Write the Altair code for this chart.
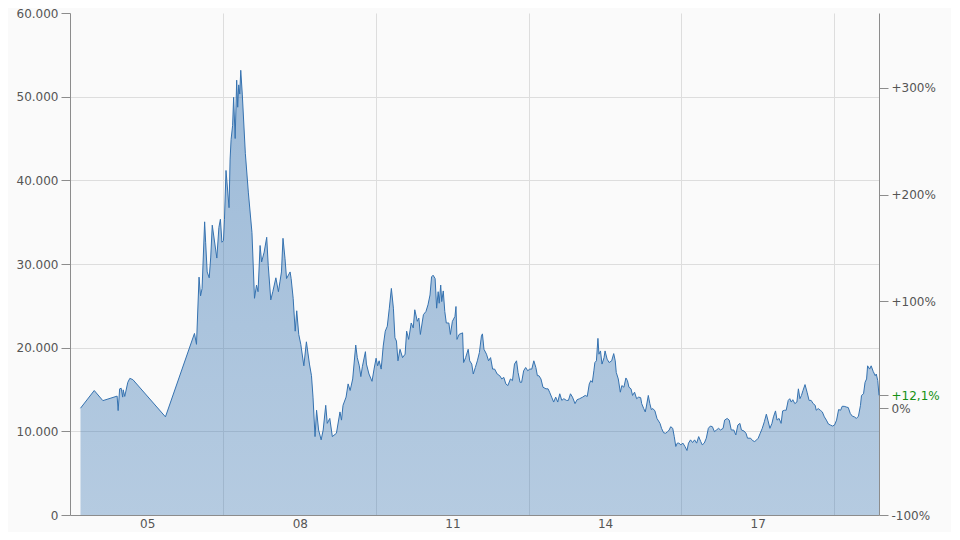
import altair as alt
import pandas as pd

years = [
    2004.19, 2004.46, 2004.63, 2004.91, 2004.93, 2004.96, 2004.99, 2005.02, 2005.03, 2005.06,
    2005.12, 2005.16, 2005.22, 2005.86, 2006.43, 2006.47, 2006.52, 2006.55, 2006.58, 2006.63,
    2006.65, 2006.68, 2006.72, 2006.75, 2006.78, 2006.87, 2006.91, 2006.94, 2006.97, 2007.00,
    2007.02, 2007.05, 2007.11, 2007.13, 2007.15, 2007.18, 2007.20, 2007.23, 2007.26, 2007.28,
    2007.30, 2007.32, 2007.34, 2007.37, 2007.43, 2007.49, 2007.56, 2007.61, 2007.65, 2007.68,
    2007.72, 2007.75, 2007.80, 2007.85, 2007.88, 2007.93, 2007.97, 2008.03, 2008.08, 2008.11,
    2008.14, 2008.17, 2008.21, 2008.24, 2008.31, 2008.33, 2008.37, 2008.41, 2008.44, 2008.48,
    2008.52, 2008.58, 2008.63, 2008.69, 2008.73, 2008.76, 2008.80, 2008.83, 2008.87, 2008.92,
    2008.96, 2009.01, 2009.04, 2009.09, 2009.14, 2009.22, 2009.29, 2009.32, 2009.35, 2009.41,
    2009.45, 2009.49, 2009.54, 2009.60, 2009.63, 2009.67, 2009.70, 2009.73, 2009.79, 2009.81,
    2009.86, 2009.92, 2009.96, 2010.00, 2010.03, 2010.06, 2010.10, 2010.14, 2010.18, 2010.22,
    2010.26, 2010.30, 2010.34, 2010.37, 2010.40, 2010.43, 2010.47, 2010.52, 2010.57, 2010.60,
    2010.64, 2010.69, 2010.73, 2010.76, 2010.81, 2010.84, 2010.87, 2010.93, 2010.98, 2011.02,
    2011.06, 2011.09, 2011.12, 2011.16, 2011.19, 2011.22, 2011.24, 2011.27, 2011.29, 2011.32,
    2011.35, 2011.38, 2011.43, 2011.46, 2011.50, 2011.55, 2011.57, 2011.59, 2011.63, 2011.70,
    2011.72, 2011.76, 2011.81, 2011.84, 2011.88, 2011.91, 2011.95, 2011.99, 2012.03, 2012.07,
    2012.09, 2012.12, 2012.17, 2012.21, 2012.25, 2012.29, 2012.33, 2012.38, 2012.43, 2012.47,
    2012.51, 2012.55, 2012.59, 2012.64, 2012.68, 2012.72, 2012.76, 2012.79, 2012.83, 2012.86,
    2012.90, 2012.94, 2012.98, 2013.02, 2013.06, 2013.10, 2013.14, 2013.17, 2013.20, 2013.24,
    2013.28, 2013.34, 2013.38, 2013.41, 2013.45, 2013.49, 2013.53, 2013.57, 2013.61, 2013.65,
    2013.69, 2013.74, 2013.78, 2013.82, 2013.86, 2013.91, 2013.95, 2014.00, 2014.06, 2014.11,
    2014.15, 2014.19, 2014.22, 2014.25, 2014.28, 2014.30, 2014.33, 2014.36, 2014.38, 2014.41,
    2014.44, 2014.48, 2014.50, 2014.54, 2014.58, 2014.63, 2014.67, 2014.70, 2014.72, 2014.76,
    2014.80, 2014.83, 2014.87, 2014.91, 2014.94, 2014.97, 2015.01, 2015.04, 2015.08, 2015.12,
    2015.16, 2015.20, 2015.22, 2015.26, 2015.29, 2015.31, 2015.35, 2015.38, 2015.41, 2015.44,
    2015.48, 2015.52, 2015.58, 2015.61, 2015.65, 2015.69, 2015.73, 2015.76, 2015.79, 2015.83,
    2015.86, 2015.89, 2015.92, 2015.95, 2015.99, 2016.03, 2016.07, 2016.11, 2016.14, 2016.18,
    2016.22, 2016.26, 2016.30, 2016.34, 2016.38, 2016.41, 2016.45, 2016.49, 2016.53, 2016.57,
    2016.61, 2016.65, 2016.69, 2016.73, 2016.77, 2016.82, 2016.85, 2016.90, 2016.94, 2016.98,
    2017.03, 2017.07, 2017.11, 2017.15, 2017.18, 2017.23, 2017.27, 2017.30, 2017.36, 2017.40,
    2017.44, 2017.48, 2017.51, 2017.55, 2017.59, 2017.63, 2017.67, 2017.70, 2017.74, 2017.78,
    2017.81, 2017.85, 2017.88, 2017.92, 2017.96, 2017.99, 2018.03, 2018.06, 2018.10, 2018.13,
    2018.16, 2018.19, 2018.23, 2018.27, 2018.30, 2018.33, 2018.36, 2018.39, 2018.43, 2018.47,
    2018.51, 2018.55, 2018.59, 2018.63, 2018.65, 2018.69, 2018.73, 2018.77, 2018.81, 2018.85,
    2018.89, 2018.93, 2018.97, 2019.01, 2019.05, 2019.09, 2019.13, 2019.16, 2019.20, 2019.24,
    2019.28, 2019.32, 2019.36, 2019.40, 2019.44, 2019.48, 2019.52, 2019.54, 2019.58, 2019.61,
    2019.64, 2019.66, 2019.70, 2019.73, 2019.77, 2019.81, 2019.83, 2019.86, 2019.884,
]

prices = [
    12760, 14880, 13670, 14210, 12480, 15080, 15150, 14090, 14960, 14170,
    15860, 16330, 16180, 11730, 21700, 20400, 28430, 26190, 27080, 35040,
    32600, 29050, 28350, 30830, 34640, 30710, 34370, 35350, 32600, 32800,
    35350, 41180, 36730, 42440, 44880, 46570, 49920, 45000, 51970, 48740,
    51410, 50310, 53150, 50310, 43230, 38500, 33780, 25900, 27480, 26690,
    32210, 30240, 31420, 33190, 29850, 25710, 26690, 28350, 26690, 27870,
    29050, 33070, 30630, 28260, 29050, 28260, 25900, 21970, 24410, 21580,
    20400, 17830, 20700, 18040, 16650, 14090, 9370, 12520, 10160, 8980,
    10160, 13110, 10950, 11540, 9370, 9770, 12320, 11340, 13110, 14090,
    15670, 14880, 16260, 20310, 18810, 17830, 16540, 17720, 19520, 18040,
    16850, 15980, 17440, 18740, 17830, 18430, 17440, 20200, 21970, 22560,
    24720, 27080, 24720, 21180, 20790, 18430, 19810, 18810, 19220, 21970,
    20990, 22950, 22360, 24530, 23150, 23540, 21580, 23940, 24330, 25120,
    26300, 28460, 28660, 28260, 24720, 26690, 25310, 27480, 25510, 26780,
    24330, 22950, 22950, 21580, 23150, 23740, 24920, 20990, 21580, 21770,
    18220, 18810, 19810, 18430, 18040, 16850, 17630, 18430, 19410, 21380,
    21650, 19810, 19220, 18430, 18810, 17440, 17440, 16850, 16650, 16260,
    16450, 15670, 15470, 16260, 16060, 18040, 18430, 17040, 15860, 15860,
    17240, 17630, 17240, 17440, 17440, 18430, 17630, 16650, 16650, 16260,
    15270, 15080, 15080, 14680, 14090, 13500, 14090, 13500, 14490, 13700,
    13900, 13700, 13700, 14490, 14090, 13310, 13780, 13900, 14090, 14290,
    14170, 15670, 16060, 15860, 17240, 18220, 18430, 21110, 19220, 19610,
    18040, 18810, 19610, 18630, 18220, 18430, 19290, 18430, 17040, 16260,
    14680, 15470, 15270, 16380, 16060, 15270, 15080, 14290, 14680, 13900,
    14090, 14020, 13310, 12720, 12320, 12910, 14290, 13310, 12600, 12720,
    12440, 11540, 10950, 10360, 9840, 9770, 9960, 10160, 10550, 10360,
    9370, 8190, 8590, 8590, 8390, 8590, 8190, 7710, 8590, 8980,
    8660, 8980, 8590, 9370, 8780, 8390, 8590, 9180, 10360, 10630,
    10550, 9960, 10160, 10360, 10160, 10360, 11340, 11540, 11340, 10160,
    10160, 9570, 10750, 10950, 10160, 10040, 9770, 9180, 9180, 8890,
    8780, 8980, 9180, 9770, 10360, 11140, 12050, 11340, 10360, 10950,
    11730, 12440, 11340, 11540, 10950, 12440, 12520, 12520, 13700, 13900,
    13500, 13780, 13310, 13500, 15080, 13900, 14290, 14880, 15590, 14680,
    13700, 13700, 13310, 13110, 12520, 12720, 12520, 12320, 11730, 11340,
    10870, 10750, 10630, 10750, 11340, 12600, 12520, 12990, 12990, 12910,
    12840, 12130, 11810, 11730, 11540, 11810, 13110, 14290, 14490, 15860,
    16260, 17830, 17440, 17830, 17160, 16650, 16850, 16060, 14300,
]

y_ticks = [0, 10000, 20000, 30000, 40000, 50000, 60000]
x_grid_years = [2007, 2010, 2013, 2016, 2019]
x_label_years = [2005.5, 2008.5, 2011.5, 2014.5, 2017.5]
x_domain = [2003.984, 2019.884]
pct_steps = [-100, 0, 100, 200, 300]

base = prices[0]
last = prices[-1]
pct_last = (last / base - 1) * 100
last_label = ("+" if pct_last >= 0 else "") + f"{pct_last:.1f}".replace(".", ",") + "%"
pct_values = [base * (1 + p / 100) for p in pct_steps] + [last]

df = pd.DataFrame({"year": years, "price": prices})

FONT = "DejaVu Sans"
AXIS_GRAY = "#8c8c8c"
LABEL_GRAY = "#555555"
GRID = "#dddddd"
LINE = "#3572b0"

x_enc = alt.X(
    "year:Q",
    scale=alt.Scale(domain=x_domain, nice=False, zero=False),
    axis=alt.Axis(
        values=sorted(x_grid_years + x_label_years),
        title=None,
        grid=True,
        labelExpr="datum.value % 1 == 0 ? '' : substring(toString(floor(datum.value)), 2)",
        ticks=False,
        tickSize=0,
        labelPadding=3,
        labelOverlap=False,
        labelFlush=False,
        gridColor={"condition": {"test": "datum.value % 1 == 0", "value": GRID}, "value": "transparent"},
    ),
)

y_left = alt.Y(
    "price:Q",
    scale=alt.Scale(domain=[0, 60000], nice=False, zero=True),
    axis=alt.Axis(
        values=y_ticks,
        title=None,
        grid=True,
        labelExpr="replace(format(datum.value, ','), ',', '.')",
        tickSize=9,
        labelPadding=3,
        labelOverlap=False,
        gridColor={"condition": {"test": "datum.value >= 60000 || datum.value <= 0", "value": "transparent"}, "value": GRID},
    ),
)

gradient = alt.Gradient(
    gradient="linear",
    stops=[
        alt.GradientStop(color="rgba(48,112,176,0.46)", offset=0),
        alt.GradientStop(color="rgba(48,112,176,0.34)", offset=1),
    ],
    x1=0, x2=0, y1=0, y2=1,
)

area = alt.Chart(df).mark_area(interpolate="linear", color=gradient).encode(x=x_enc, y=y_left)
line = alt.Chart(df).mark_line(interpolate="linear", color=LINE, strokeWidth=1).encode(x=x_enc, y=y_left)

right_expr = (
    f"abs(datum.value - {last}) < 0.5 ? '{last_label}' : "
    f"(datum.value > {base} + 0.5 ? '+' : '') + round(datum.value / {base} * 100 - 100) + '%'"
)

right = alt.Chart(df).mark_line(opacity=0).encode(
    x=x_enc,
    y=alt.Y(
        "price:Q",
        scale=alt.Scale(domain=[0, 60000], nice=False, zero=True),
        axis=alt.Axis(
            orient="right",
            values=pct_values,
            title=None,
            grid=False,
            labelExpr=right_expr,
            tickSize=9,
            labelPadding=3,
            labelOverlap=False,
            labelColor={"condition": {"test": f"abs(datum.value - {last}) < 0.5", "value": "#149014"}, "value": LABEL_GRAY},
        ),
    ),
)

chart = (
    alt.layer(alt.layer(area, line), right)
    .resolve_scale(y="independent")
    .properties(
        width=809,
        height=502,
        autosize=alt.AutoSizeParams(type="none"),
        padding={"left": 62, "top": 5, "right": 72, "bottom": 17},
        background="#fafafa",
    )
    .configure_view(stroke=None)
    .configure_axis(
        labelFont=FONT,
        labelFontSize=12,
        labelColor=LABEL_GRAY,
        domainColor=AXIS_GRAY,
        tickColor=AXIS_GRAY,
        gridColor=GRID,
        gridWidth=1,
    )
)

chart.save("out.html", embed_options={"renderer": "svg", "actions": False})
